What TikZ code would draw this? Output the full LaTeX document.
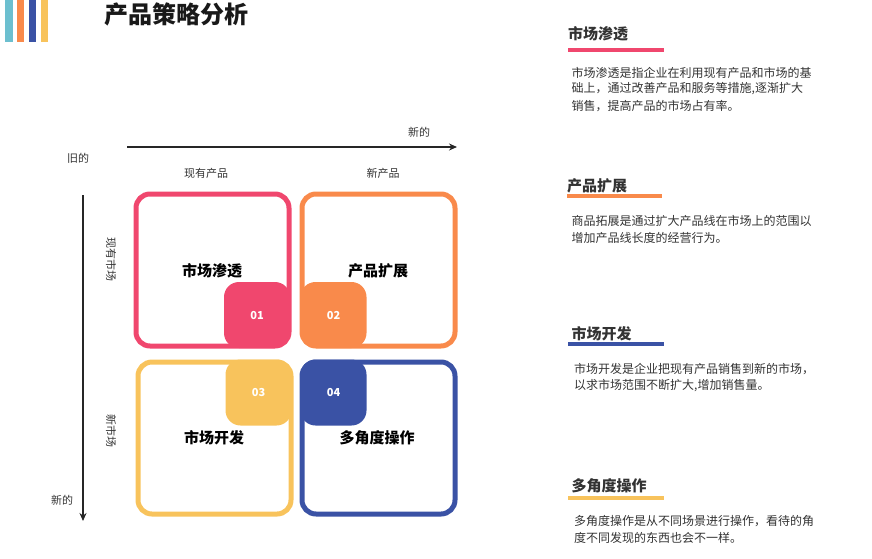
\documentclass[tikz,border=0pt]{standalone}
\usepackage{fontspec}
\setmainfont{Noto Sans CJK SC}
\usetikzlibrary{arrows.meta}
\definecolor{cpink}{HTML}{F0476E}
\definecolor{corange}{HTML}{F98A4B}
\definecolor{cyellow}{HTML}{F8C35C}
\definecolor{cblue}{HTML}{3A52A5}
\definecolor{cteal}{HTML}{6CBFCF}
\definecolor{ctext}{HTML}{333333}
\tikzset{
  quad/.style={draw, line width=5pt, rounded corners=14pt, minimum width=153pt, minimum height=152pt, inner sep=0pt},
  badge/.style={rounded corners=15pt, minimum width=66pt, minimum height=66pt, inner sep=0pt, text=white, font=\fontsize{11}{13}\selectfont\bfseries},
  qlabel/.style={font=\fontsize{15}{18}\selectfont\bfseries, text=black},
  axlabel/.style={font=\fontsize{11}{13}\selectfont, text=ctext, inner sep=0pt},
  head/.style={anchor=west, inner sep=0pt, font=\fontsize{15}{18}\selectfont\bfseries, text=ctext},
  para/.style={anchor=west, inner sep=0pt, font=\fontsize{12}{14}\selectfont, text=ctext},
  bar/.style={line width=4pt},
  axis/.style={line width=2pt, draw=black!85, -{Stealth[length=8pt,width=7pt]}}
}
\begin{document}
\begin{tikzpicture}[x=1pt,y=-1pt]
\useasboundingbox (0,0) rectangle (872,558);
% stripes
\fill[cteal] (5,0) rectangle (12.5,41.5);
\fill[corange] (16.7,0) rectangle (24.3,41.5);
\fill[cblue] (29,0) rectangle (36,41.5);
\fill[cyellow] (40.7,0) rectangle (48.3,41.5);
\node[anchor=west, inner sep=0pt, font=\fontsize{24}{28}\selectfont\bfseries, text=black!90] (title) at (104,14.5) {产品策略分析};
% axes
\coordinate (hx0) at (127,147);
\coordinate (hx1) at (457,147);
\coordinate (vy0) at (83,195);
\coordinate (vy1) at (83,521);
\draw[axis] (hx0) -- (hx1);
\draw[axis] (vy0) -- (vy1);
\node[axlabel] (newtop) at (419,132) {新的};
\node[axlabel] (old) at (78,158) {旧的};
\node[axlabel] (newleft) at (62,500) {新的};
\node[axlabel] (prodold) at (206,173) {现有产品};
\node[axlabel] (prodnew) at (383,173) {新产品};
\node[axlabel, rotate=-90] (mktold) at (111,259) {现有市场};
\node[axlabel, rotate=-90] (mktnew) at (111,431) {新市场};
% quadrants
\node[quad, draw=cpink] (q1) at (212.5,270) {};
\node[quad, draw=corange] (q2) at (378.5,270) {};
\node[quad, draw=cyellow] (q3) at (214.5,438) {};
\node[quad, draw=cblue] (q4) at (378.5,438) {};
\node[badge, fill=cpink] (b1) at (257,315) {01};
\node[badge, fill=corange] (b2) at (333.5,315) {02};
\node[badge, fill=cyellow] (b3) at (258.5,392.5) {03};
\node[badge, fill=cblue] (b4) at (333.5,392.5) {04};
\node[qlabel] (l1) at (212,271) {市场渗透};
\node[qlabel] (l2) at (378,271) {产品扩展};
\node[qlabel] (l3) at (214,438) {市场开发};
\node[qlabel] (l4) at (377,438) {多角度操作};
% right side
\node[head] (h1) at (568,33.5) {市场渗透};
\draw[bar, cpink] (568,50) -- (664,50);
\node[para] (p1a) at (571.5,72.5) {市场渗透是指企业在利用现有产品和市场的基};
\node[para] (p1b) at (571.5,89) {础上，通过改善产品和服务等措施,逐渐扩大};
\node[para] (p1c) at (571.5,106) {销售，提高产品的市场占有率。};
\node[head] (h2) at (567,186) {产品扩展};
\draw[bar, corange] (567,196) -- (662,196);
\node[para] (p2a) at (571.5,221) {商品拓展是通过扩大产品线在市场上的范围以};
\node[para] (p2b) at (571.5,237.5) {增加产品线长度的经营行为。};
\node[head] (h3) at (571.5,334) {市场开发};
\draw[bar, cblue] (568,344) -- (664,344);
\node[para] (p3a) at (574,369) {市场开发是企业把现有产品销售到新的市场，};
\node[para] (p3b) at (574,386) {以求市场范围不断扩大,增加销售量。};
\node[head] (h4) at (571.5,485.5) {多角度操作};
\draw[bar, cyellow] (568,497.5) -- (664,497.5);
\node[para] (p4a) at (574,521) {多角度操作是从不同场景进行操作，看待的角};
\node[para] (p4b) at (574,537.5) {度不同发现的东西也会不一样。};
\end{tikzpicture}
\end{document}
